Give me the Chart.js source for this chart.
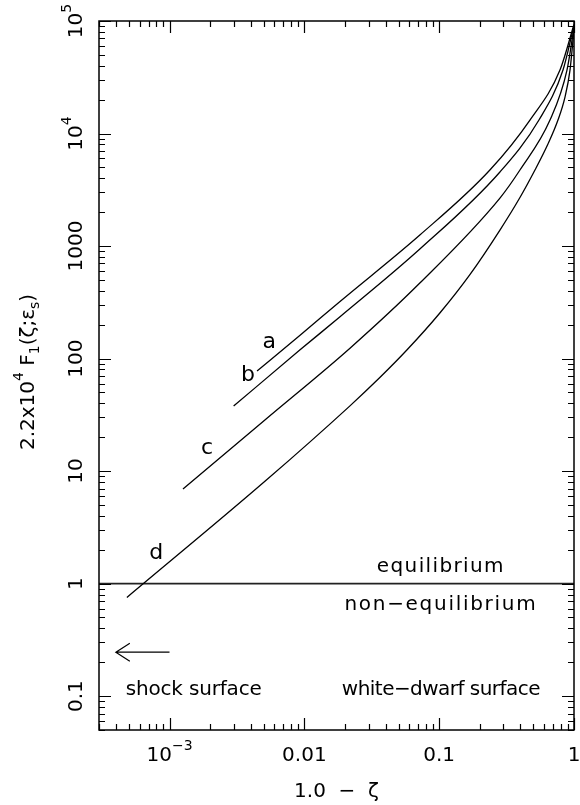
<!DOCTYPE html>
<html>
<head>
<meta charset="utf-8">
<script src="https://cdn.jsdelivr.net/npm/chart.js@4.4.1/dist/chart.umd.min.js"></script>
<style>
  html, body { margin: 0; padding: 0; background: #fff; }
</style>
</head>
<body>
<canvas id="myChart" width="580" height="805"></canvas>
<script>
// 1.0 - zeta (x) against 2.2e4 * F1 (y) for the four cases a..d
const curveA_x = [0.00446, 0.00925, 0.0183, 0.0719, 0.2378, 0.4713, 0.787, 1];
const curveA_y = [77.4, 160, 320, 1253, 4740, 13180, 36650, 93000];

const curveB_x = [0.00299, 0.00925, 0.0183, 0.0719, 0.2823, 0.5497, 0.8287, 1];
const curveB_y = [37.8, 119, 234, 940, 4550, 13180, 36650, 91000];

const curveC_x = [0.001259, 0.00523, 0.0217, 0.0719, 0.2823, 0.3973, 0.6636, 0.887, 1];
const curveC_y = [6.92, 29.2, 123, 469, 2670, 4740, 13180, 36650, 88000];

const curveD_x = [0.000483, 0.00523, 0.0217, 0.0363, 0.0576, 0.1012, 0.169, 0.2823, 0.3973, 0.5134, 0.641, 0.7606, 0.8574, 0.934, 1];
const curveD_y = [0.753, 8.32, 37.8, 67.8, 119, 254, 557, 1387, 2700, 4740, 8070, 13180, 21100, 36650, 84000];

// equilibrium boundary
const equilibriumLevel = 1;

// axis ranges and labelled ticks
const xRange = [3e-4, 1];
const yRange = [0.05, 1e5];
const xTickVals = [1e-3, 0.01, 0.1, 1];
const xTickText = [['10', '\u22123'], ['0.01'], ['0.1'], ['1']];
const yTickVals = [0.1, 1, 10, 100, 1000, 1e4, 1e5];
const yTickText = [['0.1'], ['1'], ['10'], ['100'], ['1000'], ['10', '4'], ['10', '5']];

// text inside the plot, placed in data coordinates (w = width to spread to)
const notes = [
    { text: 'a', x: 0.0055, y: 123 },
    { text: 'b', x: 0.00382, y: 63 },
    { text: 'c', x: 0.0019, y: 14.1 },
    { text: 'd', x: 0.000798, y: 1.67 },
    { text: 'equilibrium', x: 0.103, y: 1.26, w: 128 },
    { text: 'non\u2212equilibrium', x: 0.103, y: 0.58, w: 193 },
    { text: 'white\u2212dwarf surface', x: 0.103, y: 0.102, w: 198 },
    { text: 'shock surface', x: 0.00151, y: 0.102, w: 136 }
];

// arrow pointing towards the shock surface
const arrowFrom = [1e-3, 0.246];
const arrowTo = [4e-4, 0.246];

const FONT = '"DejaVu Sans", sans-serif';

function toPoints(xs, ys) {
    return xs.map((x, i) => ({ x: x, y: ys[i] }));
}

function curve(xs, ys) {
    return {
        data: toPoints(xs, ys),
        borderColor: '#000',
        borderWidth: 1.3,
        pointRadius: 0,
        cubicInterpolationMode: 'monotone',
        fill: false
    };
}

// draws a string made of normal / superscript / subscript pieces, centred on x
function drawParts(ctx, parts, x, y, size) {
    const small = Math.round(size * 0.72);
    const widths = parts.map(p => {
        ctx.font = (p[1] ? small : size) + 'px ' + FONT;
        return ctx.measureText(p[0]).width;
    });
    const total = widths.reduce((s, w) => s + w, 0);
    let cx = x - total / 2;
    ctx.textAlign = 'left';
    ctx.textBaseline = 'alphabetic';
    parts.forEach((p, i) => {
        ctx.font = (p[1] ? small : size) + 'px ' + FONT;
        let dy = 0;
        if (p[1] === 'sup') dy = -11;
        if (p[1] === 'sub') dy = 5;
        ctx.fillText(p[0], cx, y + dy);
        cx += widths[i];
    });
}

function labelParts(arr) {
    return arr.length > 1 ? [[arr[0], ''], [arr[1], 'sup']] : [[arr[0], '']];
}

const framePlugin = {
    id: 'frameAndText',
    afterDraw(chart) {
        const ctx = chart.ctx;
        const xs = chart.scales.x;
        const ys = chart.scales.y;
        const area = chart.chartArea;
        ctx.save();
        ctx.strokeStyle = '#000';
        ctx.fillStyle = '#000';

        // frame
        ctx.lineWidth = 1.5;
        ctx.strokeRect(area.left, area.top, area.right - area.left, area.bottom - area.top);

        // ticks on all four sides, pointing inwards
        ctx.lineWidth = 1.2;
        ctx.beginPath();
        for (let e = -5; e <= 5; e++) {
            for (let m = 1; m <= 9; m++) {
                const v = m * Math.pow(10, e);
                const len = m === 1 ? 12 : 6;
                if (v >= xRange[0] * 0.999 && v <= xRange[1] * 1.001) {
                    const px = Math.round(xs.getPixelForValue(v)) + 0.5;
                    ctx.moveTo(px, area.bottom); ctx.lineTo(px, area.bottom - len);
                    ctx.moveTo(px, area.top); ctx.lineTo(px, area.top + len);
                }
                if (v >= yRange[0] * 0.999 && v <= yRange[1] * 1.001) {
                    const py = Math.round(ys.getPixelForValue(v)) + 0.5;
                    ctx.moveTo(area.left, py); ctx.lineTo(area.left + len, py);
                    ctx.moveTo(area.right, py); ctx.lineTo(area.right - len, py);
                }
            }
        }
        ctx.stroke();

        // x tick labels
        xTickVals.forEach((v, i) => {
            drawParts(ctx, labelParts(xTickText[i]), xs.getPixelForValue(v), area.bottom + 31, 20);
        });

        // y tick labels, rotated
        yTickVals.forEach((v, i) => {
            ctx.save();
            ctx.translate(area.left - 17, ys.getPixelForValue(v));
            ctx.rotate(-Math.PI / 2);
            drawParts(ctx, labelParts(yTickText[i]), 0, 0, 20);
            ctx.restore();
        });

        // axis titles
        drawParts(ctx, [['1.0  \u2212  \u03b6', '']], (area.left + area.right) / 2, 797, 20);
        ctx.save();
        ctx.translate(34, 372);
        ctx.rotate(-Math.PI / 2);
        drawParts(ctx, [
            ['2.2x10', ''], ['4', 'sup'], [' F', ''], ['1', 'sub'],
            ['(\u03b6;\u03b5', ''], ['s', 'sub'], [')', '']
        ], 0, 0, 20);
        ctx.restore();

        // notes inside the plot
        ctx.textAlign = 'center';
        ctx.textBaseline = 'alphabetic';
        notes.forEach(n => {
            ctx.font = '20px ' + FONT;
            ctx.letterSpacing = '0px';
            if (n.w) {
                const natural = ctx.measureText(n.text).width;
                const spacing = (n.w - natural) / n.text.length;
                ctx.letterSpacing = spacing.toFixed(2) + 'px';
            } else {
                ctx.font = '22px ' + FONT;
            }
            ctx.fillText(n.text, xs.getPixelForValue(n.x), ys.getPixelForValue(n.y));
        });
        ctx.letterSpacing = '0px';

        // arrow
        const ax0 = xs.getPixelForValue(arrowFrom[0]);
        const ax1 = xs.getPixelForValue(arrowTo[0]);
        const ay = ys.getPixelForValue(arrowTo[1]);
        ctx.lineWidth = 1.2;
        ctx.beginPath();
        ctx.moveTo(ax0, ay); ctx.lineTo(ax1, ay);
        ctx.moveTo(ax1 + 14, ay - 9); ctx.lineTo(ax1, ay); ctx.lineTo(ax1 + 14, ay + 9);
        ctx.stroke();

        ctx.restore();
    }
};

const ctx = document.getElementById('myChart').getContext('2d');
const myChart = new Chart(ctx, {
    type: 'line',
    data: {
        datasets: [
            curve(curveA_x, curveA_y),
            curve(curveB_x, curveB_y),
            curve(curveC_x, curveC_y),
            curve(curveD_x, curveD_y),
            {
                data: [{ x: xRange[0], y: equilibriumLevel }, { x: xRange[1], y: equilibriumLevel }],
                borderColor: '#222',
                borderWidth: 1.8,
                pointRadius: 0
            }
        ]
    },
    options: {
        responsive: false,
        animation: false,
        layout: { padding: { left: 99, top: 21, right: 6, bottom: 75 } },
        plugins: { legend: { display: false }, tooltip: { enabled: false } },
        scales: {
            x: { type: 'logarithmic', min: xRange[0], max: xRange[1], display: false },
            y: { type: 'logarithmic', min: yRange[0], max: yRange[1], display: false }
        }
    },
    plugins: [framePlugin]
});
</script>
</body>
</html>
